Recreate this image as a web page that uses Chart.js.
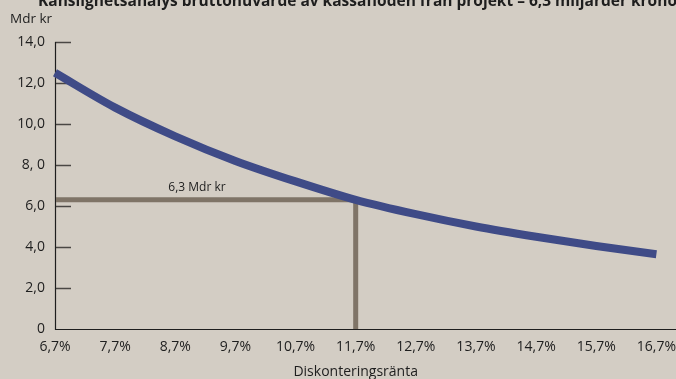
<!DOCTYPE html>
<html>
<head>
<meta charset="utf-8">
<script src="https://cdn.jsdelivr.net/npm/chart.js@4"></script>
<style>
  html, body { margin: 0; padding: 0; background: #d3cdc4; }
  #wrap { width: 676px; height: 379px; position: relative; }
</style>
</head>
<body>
<div id="wrap"><canvas id="npvChart" width="676" height="379"></canvas></div>
<script>
// Chart data
const rateLabels = ['6,7%', '7,7%', '8,7%', '9,7%', '10,7%', '11,7%', '12,7%', '13,7%', '14,7%', '15,7%', '16,7%'];
const npvValues = [12.5, 10.8, 9.4, 8.2, 7.2, 6.3, 5.6, 5.0, 4.5, 4.05, 3.65];
const yTickLabels = { 0: '0', 2: '2,0', 4: '4,0', 6: '6,0', 8: '8, 0', 10: '10,0', 12: '12,0', 14: '14,0' };
const markerRate = '11,7%';
const markerValue = 6.3;
const markerText = '6,3 Mdr kr';
const titleText = 'Känslighetsanalys bruttonuvärde av kassaflöden från projekt – 6,3 miljarder kronor';

const FONT = '"Open Sans", sans-serif';

// Draws title, unit label, axis lines, inner tick marks and the 6,3 marker
const decorPlugin = {
    id: 'decor',
    beforeDatasetsDraw(chart) {
        const ctx = chart.ctx;
        const x = chart.scales.x;
        const y = chart.scales.y;
        const left = chart.chartArea.left;
        const bottom = y.getPixelForValue(0);

        ctx.save();
        // tick marks on inside of y axis
        ctx.strokeStyle = '#4a4744';
        ctx.lineWidth = 1.5;
        y.ticks.forEach(t => {
            if (t.value === 0) return;
            const py = Math.round(y.getPixelForValue(t.value)) + 0.5;
            ctx.beginPath();
            ctx.moveTo(left, py);
            ctx.lineTo(left + 16, py);
            ctx.stroke();
        });

        // axes
        ctx.strokeStyle = '#1e1e1e';
        ctx.lineWidth = 1.2;
        ctx.beginPath();
        ctx.moveTo(left + 0.5, y.getPixelForValue(14));
        ctx.lineTo(left + 0.5, bottom + 0.5);
        ctx.lineTo(chart.width, bottom + 0.5);
        ctx.stroke();

        // marker lines
        const mx = x.getPixelForValue(rateLabels.indexOf(markerRate));
        const my = y.getPixelForValue(markerValue);
        ctx.strokeStyle = '#7f7467';
        ctx.lineWidth = 5;
        ctx.lineCap = 'butt';
        ctx.lineJoin = 'miter';
        ctx.beginPath();
        ctx.moveTo(left + 1, my);
        ctx.lineTo(mx, my);
        ctx.lineTo(mx, bottom);
        ctx.stroke();

        // marker label
        ctx.fillStyle = '#1e1e1e';
        ctx.font = '12px ' + FONT;
        ctx.textAlign = 'center';
        ctx.textBaseline = 'middle';
        ctx.fillText(markerText, 197, my - 12);

        // unit label
        ctx.font = '13.5px ' + FONT;
        ctx.textAlign = 'left';
        ctx.fillText('Mdr kr', 10, 19);

        // title (cut off at top in original)
        ctx.font = 'bold 15.5px ' + FONT;
        ctx.textBaseline = 'alphabetic';
        ctx.fillText(titleText, 38, 6);
        ctx.restore();
    }
};

new Chart(document.getElementById('npvChart'), {
    type: 'line',
    data: {
        labels: rateLabels,
        datasets: [{
            data: npvValues,
            borderColor: '#3f4b87',
            borderWidth: 8,
            pointRadius: 0,
            tension: 0.4,
            cubicInterpolationMode: 'monotone',
            borderCapStyle: 'butt',
            fill: false
        }]
    },
    options: {
        responsive: false,
        animation: false,
        layout: { padding: { top: 42, right: 0, left: 0, bottom: 0 } },
        plugins: {
            legend: { display: false },
            tooltip: { enabled: false }
        },
        scales: {
            x: {
                type: 'category',
                offset: false,
                grid: { display: false, drawTicks: true, tickLength: 10 },
                border: { display: false },
                ticks: {
                    color: '#1e1e1e',
                    font: { family: FONT, size: 14 },
                    maxRotation: 0,
                    autoSkip: false,
                    padding: 0
                },
                title: {
                    display: true,
                    text: 'Diskonteringsränta',
                    color: '#1e1e1e',
                    font: { family: FONT, size: 14 },
                    padding: { top: 0, bottom: -1 }
                },
                afterFit(scale) { scale.height = 50; }
            },
            y: {
                min: 0,
                max: 14,
                grid: { display: false, drawTicks: false },
                border: { display: false },
                ticks: {
                    stepSize: 2,
                    color: '#1e1e1e',
                    font: { family: FONT, size: 14 },
                    padding: 10,
                    callback: v => yTickLabels[v]
                },
                afterFit(scale) { scale.width = 55; }
            }
        }
    },
    plugins: [decorPlugin]
});
</script>
</body>
</html>
